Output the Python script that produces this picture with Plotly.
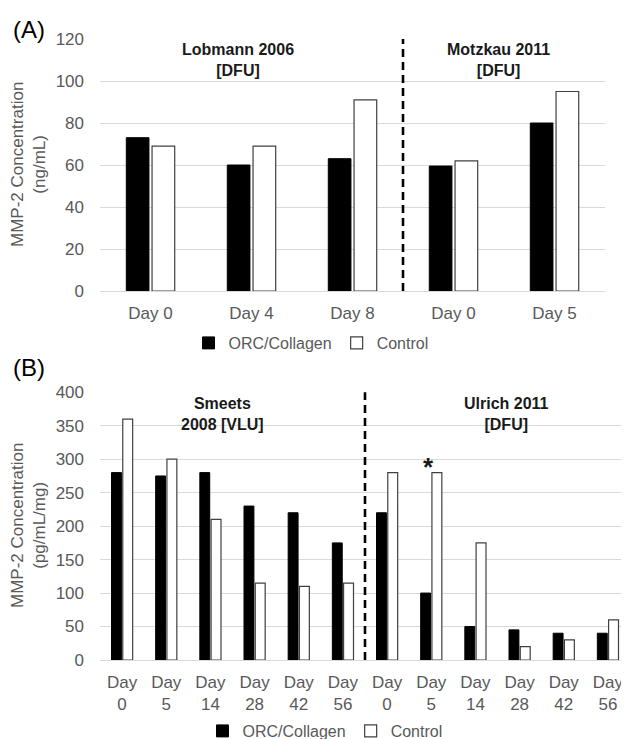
import plotly.graph_objects as go

W, H = 629, 739
OFF = 8  # page body margin offset
FONT = "Liberation Sans, Arial, sans-serif"
GREY = "#595959"

# ---- Panel A data ----
a_labels = ["Day 0", "Day 4", "Day 8", "Day 0", "Day 5"]
a_orc = [73, 60, 63, 59.5, 80]
a_ctrl = [69, 69, 91, 62, 95]

# ---- Panel B data ----
b_labels = ["Day<br>0", "Day<br>5", "Day<br>14", "Day<br>28", "Day<br>42", "Day<br>56",
            "Day<br>0", "Day<br>5", "Day<br>14", "Day<br>28", "Day<br>42", "Day<br>56"]
b_orc = [280, 275, 280, 230, 220, 175, 220, 100, 50, 45, 40, 40]
b_ctrl = [360, 300, 210, 115, 110, 115, 280, 280, 175, 20, 30, 60]

a_x = list(range(len(a_labels)))
b_x = list(range(len(b_labels)))

fig = go.Figure()

fig.add_trace(go.Bar(x=a_x, y=a_orc, name="ORC/Collagen", xaxis="x", yaxis="y",
                     marker=dict(color="black", line=dict(color="black", width=1)),
                     legend="legend"))
fig.add_trace(go.Bar(x=a_x, y=a_ctrl, name="Control", xaxis="x", yaxis="y",
                     marker=dict(color="white", line=dict(color="#404040", width=1.2)),
                     legend="legend"))
fig.add_trace(go.Bar(x=b_x, y=b_orc, name="ORC/Collagen", xaxis="x2", yaxis="y2",
                     marker=dict(color="black", line=dict(color="black", width=1)),
                     legend="legend2"))
fig.add_trace(go.Bar(x=b_x, y=b_ctrl, name="Control", xaxis="x2", yaxis="y2",
                     marker=dict(color="white", line=dict(color="#404040", width=1.2)),
                     legend="legend2"))

def px_x(p):
    return (p - OFF) / W

def px_y(p):
    return (H - (p - OFF)) / H

tickfont = dict(family=FONT, size=17, color=GREY)

fig.update_layout(
    template="none",
    width=W, height=H,
    margin=dict(l=0, r=0, t=0, b=0, pad=0, autoexpand=False),
    paper_bgcolor="white", plot_bgcolor="white",
    barmode="group", bargap=0.49, bargroupgap=0.12,
    font=dict(family=FONT, color=GREY),
    xaxis=dict(domain=[px_x(100), px_x(605)], anchor="y", automargin=False,
               range=[-0.5, len(a_labels) - 0.5],
               tickmode="array", tickvals=a_x, ticktext=a_labels,
               tickfont=tickfont, showgrid=False, zeroline=False,
               showline=False, ticks="", ticklabelstandoff=10),
    yaxis=dict(domain=[px_y(291), px_y(39)], anchor="x", automargin=False,
               range=[0, 120], dtick=20, tickfont=tickfont,
               showgrid=True, gridcolor="#d9d9d9", gridwidth=1,
               zeroline=True, zerolinecolor="#d9d9d9", zerolinewidth=1,
               showline=False, ticks="", ticklabelstandoff=15),
    xaxis2=dict(domain=[px_x(100), px_x(630)], anchor="y2", automargin=False,
                range=[-0.5, len(b_labels) - 0.5],
                tickmode="array", tickvals=b_x, ticktext=b_labels,
                tickfont=tickfont, showgrid=False, zeroline=False,
                showline=False, ticks="", ticklabelstandoff=10),
    yaxis2=dict(domain=[px_y(660), px_y(392.3)], anchor="x2", automargin=False,
                range=[0, 400], dtick=50, tickfont=tickfont,
                showgrid=True, gridcolor="#d9d9d9", gridwidth=1,
                zeroline=True, zerolinecolor="#d9d9d9", zerolinewidth=1,
                showline=False, ticks="", ticklabelstandoff=15),
    legend=dict(orientation="h", x=px_x(311), y=px_y(343), xanchor="center", yanchor="middle",
                font=dict(family=FONT, size=16, color=GREY), bgcolor="rgba(0,0,0,0)",
                itemwidth=30, traceorder="normal"),
    legend2=dict(orientation="h", x=px_x(325), y=px_y(731), xanchor="center", yanchor="middle",
                 font=dict(family=FONT, size=16, color=GREY), bgcolor="rgba(0,0,0,0)",
                 itemwidth=30, traceorder="normal"),
    showlegend=True,
)

# dashed separators
fig.add_shape(type="line", xref="x", yref="y domain", x0=2.5, x1=2.5, y0=0, y1=1,
              line=dict(color="black", width=2.6, dash="8px,5px"))
fig.add_shape(type="line", xref="x2", yref="y2 domain", x0=5.5, x1=5.5, y0=0, y1=1,
              line=dict(color="black", width=2.6, dash="8px,5px"))

bold = dict(family=FONT, size=16, color="#1a1a1a")
ann = [
    dict(text="<b>Lobmann 2006<br>[DFU]</b>", xref="x", yref="y", x=0.866, y=110,
         showarrow=False, font=bold, xanchor="center", yanchor="middle"),
    dict(text="<b>Motzkau 2011<br>[DFU]</b>", xref="x", yref="y", x=3.45, y=110,
         showarrow=False, font=bold, xanchor="center", yanchor="middle"),
    dict(text="<b>Smeets<br>2008 [VLU]</b>", xref="x2", yref="y2", x=2.27, y=368,
         showarrow=False, font=bold, xanchor="center", yanchor="middle"),
    dict(text="<b>Ulrich 2011<br>[DFU]</b>", xref="x2", yref="y2", x=8.71, y=368,
         showarrow=False, font=bold, xanchor="center", yanchor="middle"),
    dict(text="<b>*</b>", xref="x2", yref="y2", x=6.93, y=296,
         showarrow=False, font=dict(family=FONT, size=26, color="#1a1a1a"),
         xanchor="center", yanchor="middle", yshift=-5),
    dict(text="(A)", xref="paper", yref="paper", x=px_x(29), y=px_y(29),
         showarrow=False, font=dict(family=FONT, size=24, color="black"),
         xanchor="center", yanchor="middle"),
    dict(text="(B)", xref="paper", yref="paper", x=px_x(29), y=px_y(367),
         showarrow=False, font=dict(family=FONT, size=24, color="black"),
         xanchor="center", yanchor="middle"),
    dict(text="MMP-2 Concentration<br>(ng/mL)", xref="paper", yref="paper",
         x=px_x(28), y=px_y(165), textangle=-90, showarrow=False,
         font=dict(family=FONT, size=17, color=GREY), xanchor="center", yanchor="middle"),
    dict(text="MMP-2 Concentration<br>(pg/mL/mg)", xref="paper", yref="paper",
         x=px_x(28), y=px_y(526), textangle=-90, showarrow=False,
         font=dict(family=FONT, size=17, color=GREY), xanchor="center", yanchor="middle"),
]
fig.update_layout(annotations=ann)

fig.write_html("out.html")
